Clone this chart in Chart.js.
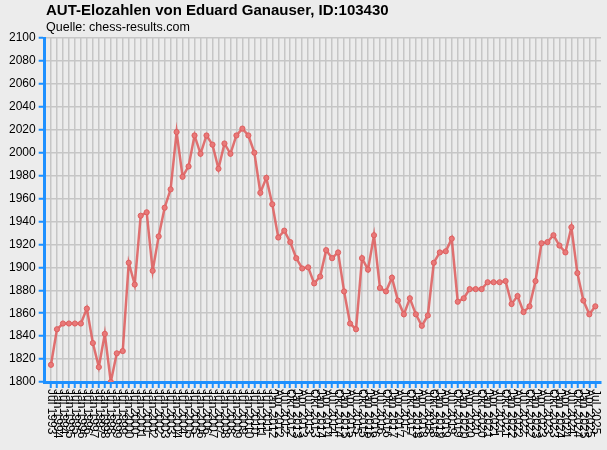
<!DOCTYPE html>
<html>
<head>
<meta charset="utf-8">
<script src="https://cdn.jsdelivr.net/npm/chart.js@4.4.1/dist/chart.umd.min.js"></script>
<style>
  body { margin: 0; background: #ececec; font-family: "Liberation Sans", Arial, sans-serif; }
  #wrap { position: relative; width: 607px; height: 450px; }
  #title { position: absolute; left: 46px; top: 1px; font-size: 15px; font-weight: bold; color: #000; }
  #subtitle { position: absolute; left: 46px; top: 20px; font-size: 12.5px; color: #000; }
  canvas { position: absolute; left: 0; top: 0; }
</style>
</head>
<body>
<div id="wrap">
  <canvas id="eloChart" width="607" height="450"></canvas>
  <div id="title">AUT-Elozahlen von Eduard Ganauser, ID:103430</div>
  <div id="subtitle">Quelle: chess-results.com</div>
</div>
<script>
// rating list dates (x axis)
const listDates = [
  'Jul 1993',
  'Jan 1994', 'Jul 1994', 'Jan 1995', 'Jul 1995', 'Jan 1996', 'Jul 1996',
  'Jan 1997', 'Jul 1997', 'Jan 1998', 'Jul 1998', 'Jan 1999', 'Jul 1999',
  'Jan 2000', 'Jul 2000', 'Jan 2001', 'Jul 2001', 'Jan 2002', 'Jul 2002',
  'Jan 2003', 'Jul 2003', 'Jan 2004', 'Jul 2004', 'Jan 2005', 'Jul 2005',
  'Jan 2006', 'Jul 2006', 'Jan 2007', 'Jul 2007', 'Jan 2008', 'Jul 2008',
  'Jan 2009', 'Jul 2009', 'Jan 2010', 'Jul 2010', 'Jan 2011', 'Jul 2011',
  'Jan 2012', 'Apr 2012', 'Jul 2012', 'Okt 2012',
  'Jan 2013', 'Apr 2013', 'Jul 2013', 'Okt 2013',
  'Jan 2014', 'Apr 2014', 'Jul 2014', 'Okt 2014',
  'Jan 2015', 'Apr 2015', 'Jul 2015', 'Okt 2015',
  'Jan 2016', 'Apr 2016', 'Jul 2016', 'Okt 2016',
  'Jan 2017', 'Apr 2017', 'Jul 2017', 'Okt 2017',
  'Jan 2018', 'Apr 2018', 'Jul 2018', 'Okt 2018',
  'Jan 2019', 'Apr 2019', 'Jul 2019', 'Okt 2019',
  'Jan 2020', 'Apr 2020', 'Jul 2020', 'Okt 2020',
  'Jan 2021', 'Apr 2021', 'Jul 2021', 'Okt 2021',
  'Jan 2022', 'Apr 2022', 'Jul 2022', 'Okt 2022',
  'Jan 2023', 'Apr 2023', 'Jul 2023', 'Okt 2023',
  'Jan 2024', 'Apr 2024', 'Jul 2024', 'Okt 2024',
  'Jan 2025', 'Apr 2025', 'Jul 2025'
];

// Elo values per list
const eloValues = [
  1815, 1846, 1851, 1851, 1851, 1851, 1864, 1834, 1813, 1842,
  1800, 1825, 1827, 1904, 1885, 1945, 1948, 1897, 1927, 1952,
  1968, 2018, 1979, 1988, 2015, 1999, 2015, 2007, 1986, 2008,
  1999, 2015, 2021, 2015, 2000, 1965, 1978, 1955, 1926, 1932,
  1922, 1908, 1899, 1900, 1886, 1892, 1915, 1908, 1913, 1879,
  1851, 1846, 1908, 1898, 1928, 1882, 1879, 1891, 1871, 1859,
  1873, 1859, 1849, 1858, 1904, 1913, 1914, 1925, 1870, 1873,
  1881, 1881, 1881, 1887, 1887, 1887, 1888, 1868, 1875, 1861,
  1866, 1888, 1921, 1922, 1928, 1919, 1913, 1935, 1895, 1871,
  1859, 1866
];

// y axis range
const yMin = 1800;
const yMax = 2100;
const yStep = 20;

const axisBlue = '#1e90ff';
const gridGrey = '#c6c6c6';

// draws the date labels turned clockwise (top to bottom)
const verticalLabels = {
  id: 'verticalLabels',
  afterDraw(chart) {
    const { ctx, scales: { x } } = chart;
    ctx.save();
    ctx.font = '12px "Liberation Sans", Arial, sans-serif';
    ctx.fillStyle = '#000';
    ctx.textAlign = 'left';
    ctx.textBaseline = 'middle';
    listDates.forEach((label, i) => {
      const px = x.getPixelForValue(i);
      ctx.save();
      ctx.translate(px, x.top + 7);
      ctx.rotate(Math.PI / 2);
      ctx.fillText(label, 0, 0);
      ctx.restore();
    });
    ctx.restore();
  }
};

const ctx = document.getElementById('eloChart').getContext('2d');
new Chart(ctx, {
  type: 'line',
  data: {
    datasets: [{
      label: 'Elo',
      data: eloValues.map((v, i) => ({ x: i, y: v })),
      borderColor: 'rgba(222, 90, 90, 0.85)',
      borderWidth: 2.5,
      pointRadius: 2.6,
      pointBackgroundColor: 'rgba(232, 120, 120, 1)',
      pointBorderColor: 'rgba(222, 95, 95, 1)',
      pointBorderWidth: 1,
      tension: 0
    }]
  },
  options: {
    responsive: false,
    animation: false,
    layout: { padding: { top: 38, right: 6, bottom: 62, left: 6 } },
    plugins: {
      legend: { display: false },
      tooltip: { enabled: false }
    },
    scales: {
      x: {
        type: 'linear',
        min: -1.05,
        max: 91.95,
        afterBuildTicks: (axis) => {
          axis.ticks = listDates.map((_, i) => ({ value: i }));
        },
        ticks: { display: false },
        grid: {
          color: gridGrey,
          lineWidth: 1.5,
          tickColor: axisBlue,
          tickLength: 6,
          tickWidth: 2
        },
        border: { color: axisBlue, width: 3 }
      },
      y: {
        min: yMin,
        max: yMax,
        ticks: {
          stepSize: yStep,
          color: '#000',
          padding: 3,
          callback: (v) => String(v),
          font: { family: '"Liberation Sans", Arial, sans-serif', size: 12 }
        },
        grid: {
          color: gridGrey,
          lineWidth: 1.5,
          tickColor: axisBlue,
          tickLength: 6,
          tickWidth: 2
        },
        border: { color: axisBlue, width: 3 }
      }
    }
  },
  plugins: [verticalLabels]
});
</script>
</body>
</html>
